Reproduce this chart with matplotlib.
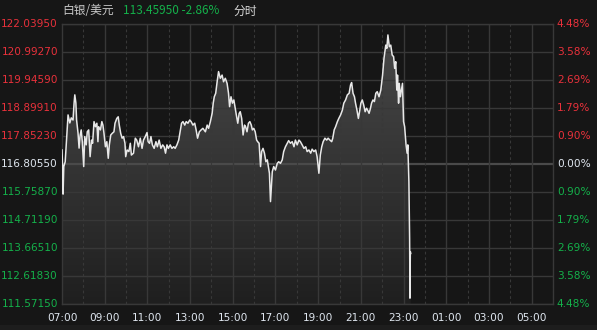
import numpy as np
import matplotlib.pyplot as plt
import matplotlib.patches as patches
import matplotlib.transforms as mtransforms
from matplotlib.colors import LinearSegmentedColormap

plt.rcParams['font.family'] = ['DejaVu Sans']

# silver / USD intraday, minutes after 07:00
prev_close = 116.8055
last_price = "113.45950"
last_change = "-2.86%"

minutes = [0, 2, 3, 5, 9, 14, 17, 22, 26, 31, 34, 36, 39, 41, 45, 48, 51, 54, 57, 61,
           64, 68, 71, 75, 79, 83, 86, 90, 94, 98, 101, 103, 108, 112, 115, 118, 122, 126, 130, 133,
           137, 141, 146, 149, 154, 158, 161, 165, 169, 173, 177, 179, 183, 188, 192, 195, 201,
           206, 210, 215, 220, 225, 229, 234, 239, 242, 246, 250, 254, 259, 264, 268, 273, 278,
           283, 287, 291, 295, 299, 304, 309, 314, 318, 323, 328, 332, 336, 340, 345, 349, 354,
           359, 363, 368, 373, 377, 381, 386, 391, 396, 403,
           408, 412, 417, 422, 425, 428, 432, 436, 440, 445, 450, 454, 459, 464, 468, 471, 475,
           479, 483, 486, 490, 494, 498, 501, 505, 509, 513, 516, 520, 524, 528, 532, 535, 539,
           543, 547, 550, 554, 558, 561, 565, 569, 573, 577, 580, 583, 586, 589, 591, 595, 600,
           605, 609, 614, 619, 623, 628, 633, 637, 642, 647, 652, 656, 661, 666, 670, 675, 680,
           685, 689, 694, 699, 703, 708, 713, 717, 722, 726, 730, 734, 739, 744, 748, 753, 758,
           761, 765, 769, 774, 778, 783, 788, 792, 797, 802, 807, 811, 814, 818, 822, 825, 829,
           833, 837, 840, 844, 848, 852, 856, 859, 863, 867, 870, 874, 878, 882, 886, 891, 896,
           901, 905, 910, 913, 916, 920, 924, 928, 932, 935, 938, 941, 943, 946, 948, 951, 954,
           957, 960, 963, 967, 970, 972, 975, 977, 978, 979, 980]

price = [117.33, 116.58, 115.68, 116.71, 116.89, 117.97, 118.64, 118.34, 118.53, 118.45,
         119.09, 119.39, 119.09, 118.45, 117.97, 117.40, 117.89, 118.08, 117.64, 116.71,
         117.83, 117.52, 118.01, 118.08, 117.08, 117.70, 117.58, 118.39, 118.20, 118.33,
         117.64, 118.20, 118.08, 118.39, 118.26, 117.95, 117.45, 117.64, 117.02, 117.52,
         117.89, 117.95, 118.01, 118.33, 118.51, 118.57, 118.26, 117.95, 117.77, 117.83,
         117.58, 117.08, 117.33, 117.27, 117.58, 117.14, 117.21,
         117.77, 117.70, 117.45, 117.77, 117.39, 117.70, 117.83, 117.98, 117.64, 117.58,
         117.83, 117.52, 117.39, 117.64, 117.45, 117.70, 117.39, 117.52, 117.45, 117.21,
         117.52, 117.39, 117.52, 117.39, 117.45, 117.39, 117.52, 117.70, 118.01, 118.33,
         118.39, 118.26, 118.39, 118.33, 118.45, 118.39, 118.26, 118.33, 118.08, 117.77,
         118.01, 118.08, 118.14, 118.01,
         118.26, 118.14, 118.39, 118.70, 119.08, 119.32, 119.45, 119.88, 120.26, 120.01,
         120.13, 119.88, 120.01, 119.82, 119.45, 118.95, 119.32, 119.08, 119.20, 118.95,
         118.64, 118.33, 118.70, 118.76, 118.51, 117.89, 118.26, 118.20, 118.01, 118.33,
         118.39, 118.26, 118.08, 118.14, 118.01, 117.70, 117.64, 117.58, 116.71, 117.27,
         117.39, 117.21, 116.89, 116.96, 116.71, 116.46, 115.40, 116.08, 116.52, 116.71,
         116.58, 116.83, 116.89, 116.83, 116.96, 117.27, 117.45, 117.58, 117.68, 117.58,
         117.64, 117.45, 117.70, 117.52, 117.70, 117.64, 117.52, 117.39, 117.45, 117.27,
         117.33, 117.21, 117.36, 117.27, 117.33, 117.08, 116.46, 117.14, 117.45, 117.64,
         117.77, 117.70, 117.77, 117.70, 117.64, 117.77, 118.08, 118.20, 118.39, 118.51,
         118.64, 118.82, 119.08, 119.20, 119.39, 119.45, 119.76, 119.85, 119.45, 119.32,
         119.08, 118.82, 118.51, 118.82, 119.08, 119.20, 119.01, 118.76, 118.89, 118.82,
         118.70, 118.89, 119.08, 119.20, 119.14, 119.45, 119.51, 119.32, 119.57, 120.13,
         120.76, 121.25, 121.13, 121.63, 121.19, 121.25, 120.88, 120.82, 120.38, 120.63,
         119.57, 120.13, 119.08, 119.82, 119.32, 119.57, 119.82, 118.39, 118.20, 117.52,
         117.21, 117.52, 116.14, 114.03, 111.79, 113.53, 113.46]

price_ticks = [122.03950, 120.99270, 119.94590, 118.89910, 117.85230, 116.80550,
               115.75870, 114.71190, 113.66510, 112.61830, 111.57150]
price_labels = ['122.03950', '120.99270', '119.94590', '118.89910', '117.85230', '116.80550',
                '115.75870', '114.71190', '113.66510', '112.61830', '111.57150']
pct_labels = ['4.48%', '3.58%', '2.69%', '1.79%', '0.90%', '0.00%',
              '0.90%', '1.79%', '2.69%', '3.58%', '4.48%']
time_labels = ['07:00', '09:00', '11:00', '13:00', '15:00', '17:00',
               '19:00', '21:00', '23:00', '01:00', '03:00', '05:00']

bg = '#161616'
grid_c = '#383838'
red = '#e8313b'
green = '#14b04a'
white = '#dfe6ef'

fig = plt.figure(figsize=(5.97, 3.30), dpi=100)
fig.patch.set_facecolor(bg)
# slightly lighter strip along the bottom edge
fig.patches.append(patches.Rectangle((0, 0), 1, 5/330, transform=fig.transFigure,
                                     facecolor='#1d1d1d', edgecolor='none'))
ax = fig.add_axes([62/597, 26/330, 491/597, 280/330])
ax.set_facecolor(bg)

xmax = 23 * 60
ymin, ymax = price_ticks[-1], price_ticks[0]
ax.set_xlim(0, xmax)
ax.set_ylim(ymin, ymax)

# gradient fill under the price line
verts = np.vstack([[minutes[0], ymin], np.column_stack([minutes, price]), [minutes[-1], ymin]])
clip = patches.Polygon(verts, closed=True, facecolor='none', edgecolor='none')
ax.add_patch(clip)
cmap = LinearSegmentedColormap.from_list('fillg', ['#1f1f1f', '#4a4a4a'])
grad = np.linspace(1, 0, 256).reshape(-1, 1)
img = ax.imshow(grad, extent=[0, xmax, ymin, ymax], aspect='auto', cmap=cmap,
                origin='upper', zorder=1)
img.set_clip_path(clip)

# grid
for v in price_ticks:
    if abs(v - prev_close) < 1e-6:
        ax.axhline(v, color='#4a4a4a', lw=1.6, zorder=2)
    else:
        ax.axhline(v, color=grid_c, lw=1.0, zorder=2)
for h in range(1, 24):
    if h % 2 == 0:
        ax.axvline(h * 60, color=grid_c, lw=1.0, zorder=2)
    else:
        ax.axvline(h * 60, color=grid_c, lw=0.8, ls=(0, (2.5, 2.5)), zorder=2)

ax.plot(minutes, price, color='#e8e8e8', lw=1.1, zorder=3)

for s in ax.spines.values():
    s.set_color(grid_c)
    s.set_linewidth(1.0)
ax.set_xticks([])
ax.set_yticks([])

# axis labels
tr = mtransforms.blended_transform_factory(ax.transAxes, ax.transData)
for v, lab, pl in zip(price_ticks, price_labels, pct_labels):
    if v > prev_close + 1e-6:
        c = red
    elif v < prev_close - 1e-6:
        c = green
    else:
        c = white
    ax.text(-0.008, v, lab, transform=tr, ha='right', va='center', fontsize=7.6, color=c)
    ax.text(1.008, v, pl, transform=tr, ha='left', va='center', fontsize=7.6, color=c)

trx = mtransforms.blended_transform_factory(ax.transData, ax.transAxes)
for i, lab in enumerate(time_labels):
    ax.text(i * 120, -0.05, lab, transform=trx, ha='center', va='center',
            fontsize=7.6, color=white)

# header
hy = 1 - 11/330
fig.text(62/597, hy, '白银/美元', family=['Noto Sans CJK SC', 'DejaVu Sans'],
         fontsize=8.5, color='#c8c8c8', va='center', ha='left')
fig.text(123/597, hy, last_price + ' ' + last_change, family=['Noto Sans CJK SC', 'DejaVu Sans'],
         fontsize=8.5, color=green, va='center', ha='left')
fig.text(233/597, hy, '分时', family=['Noto Sans CJK SC', 'DejaVu Sans'],
         fontsize=8.5, color='#d8d8d8', va='center', ha='left')

fig.savefig('out.png', dpi=100, facecolor=bg)
